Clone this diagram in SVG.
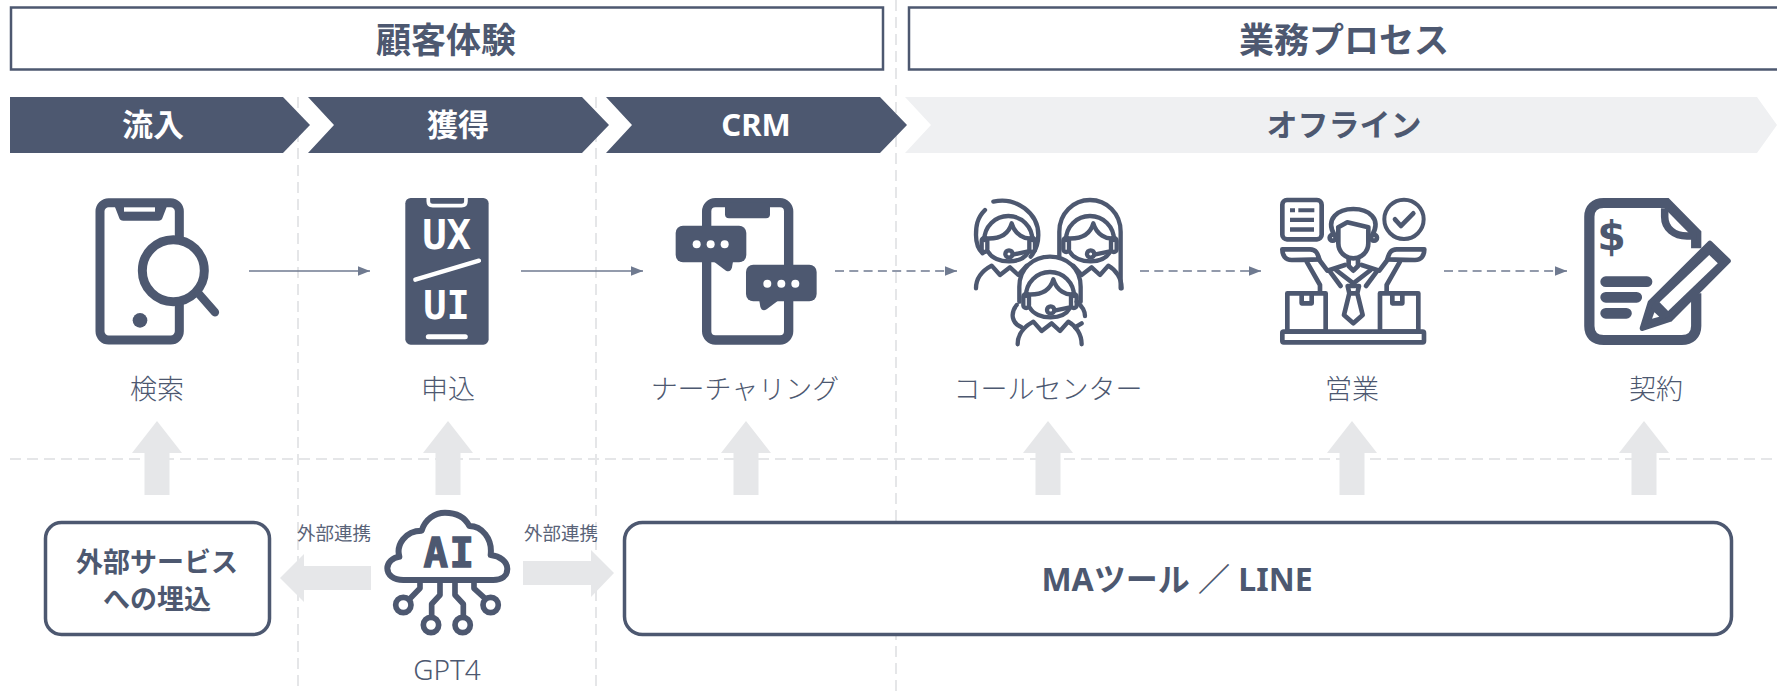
<svg xmlns="http://www.w3.org/2000/svg" width="1777" height="692" viewBox="0 0 1777 692">
<style>
text{font-family:"Noto Sans","Noto Sans CJK JP",sans-serif;text-anchor:middle;dominant-baseline:central;fill:#4d5870}
.h{font-size:35px;font-weight:700}
.c{font-size:31px;font-weight:700}
.w{fill:#fff}
.l{font-size:27px;font-weight:300;fill:#4d5870}
.s{font-size:18.500px;font-weight:400;fill:#596378}
.b{font-size:27px;font-weight:700}
.g{stroke:#e5e6e8;stroke-width:2;stroke-dasharray:11 6;fill:none}
.a{fill:#e6e7e9}
.ln{stroke:#6f7a90;stroke-width:1.6;fill:none;marker-end:url(#ah)}
.d{stroke-dasharray:9 5.3}
.dk{fill:#4d5870}
.o{fill:none;stroke:#4d5870;stroke-linecap:round;stroke-linejoin:round}
.box{fill:#fff;stroke:#4d5870;stroke-width:3.500}
.hb{fill:#fff;stroke:#4d5870;stroke-width:2.500}
text.mono{font-family:"DejaVu Sans Mono",monospace;font-weight:700}
</style>
<defs>
<marker id="ah" markerUnits="userSpaceOnUse" markerWidth="13" markerHeight="11" refX="12.5" refY="5" orient="auto"><path d="M0 0L12.5 5L0 10Z" fill="#6f7a90"/></marker>
<g id="person" class="o" stroke-width="13">
<path d="M-72 20A72 72 0 0 1 72 20"/>
<path d="M-70 15C-30 18 0 5 10 -30C20 5 50 18 70 15"/>
<path d="M-60 56C-50 74 -25 84 2 84C28 84 50 74 60 56"/>
<rect x="-80" y="14" width="17" height="42" rx="8.500"/>
<rect x="63" y="14" width="17" height="42" rx="8.500"/>
<circle cx="2" cy="62" r="11"/>
<path d="M13 64L60 54"/>
<path d="M-97 165C-97 135 -78 112 -50 97L-25 125L5 102L30 125L55 97C78 110 95 135 95 165"/>
</g>
</defs>
<g id="guides">
<path class="g" d="M298 97V692M596 97V692M896 0V692M10 459H1777"/>
</g>
<g id="header-cx"><rect class="hb" x="11" y="7.500" width="872" height="62"/><text class="h" x="446" y="39">顧客体験</text></g>
<g id="header-bp"><rect class="hb" x="909" y="7.500" width="880" height="62"/><text class="h" x="1344" y="39">業務プロセス</text></g>
<g id="stage-inflow"><path class="dk" d="M10 97H283L310 125L283 153H10Z"/><text class="c w" x="153" y="124">流入</text></g>
<g id="stage-acquire"><path class="dk" d="M308 97H582L609 125L582 153H308L334 125Z"/><text class="c w" x="458" y="124">獲得</text></g>
<g id="stage-crm"><path class="dk" d="M606 97H880L907 125L880 153H606L632 125Z"/><text class="c w" x="756" y="124">CRM</text></g>
<g id="stage-offline"><path fill="#eff0f2" d="M905 97H1757L1777 125L1757 153H905L931 125Z"/><text class="c" x="1344" y="124">オフライン</text></g>
<g id="connectors">
<path class="ln" d="M249 271H370"/>
<path class="ln" d="M521 271H643"/>
<path class="ln d" d="M835 271H957"/>
<path class="ln d" d="M1140 271H1261"/>
<path class="ln d" d="M1444 271H1567"/>
<path class="a" d="M144.500 495V453H132L157 421L182 453H169.500V495Z"/>
<path class="a" d="M435.500 495V453H423L448 421L473 453H460.500V495Z"/>
<path class="a" d="M733.500 495V453H721L746 421L771 453H758.500V495Z"/>
<path class="a" d="M1035.500 495V453H1023L1048 421L1073 453H1060.500V495Z"/>
<path class="a" d="M1339.500 495V453H1327L1352 421L1377 453H1364.500V495Z"/>
<path class="a" d="M1631.500 495V453H1619L1644 421L1669 453H1656.500V495Z"/>
<path class="a" d="M371 566H304V554L280 578L304 602V590H371Z"/>
<path class="a" d="M523 561H591V550L614 573L591 597V585H523Z"/>
</g>
<g id="node-search">
<g transform="translate(60 180) scale(.3333)">
<rect x="120" y="68" width="238" height="412" rx="26" fill="none" stroke="#4d5870" stroke-width="27"/>
<path class="dk" d="M160 68L178 115Q180 122 190 122H295Q305 122 307 115L325 68Z"/>
<rect x="192" y="82" width="93" height="13" fill="#fff"/>
<circle cx="240" cy="421" r="22" class="dk"/>
<circle cx="340" cy="272" r="93" fill="#fff" stroke="#4d5870" stroke-width="27"/>
<path class="o" stroke-width="25" d="M415 340L465 397"/>
</g>
<text class="l" x="157" y="388">検索</text>
</g>
<g id="node-apply">
<g transform="translate(60 180) scale(.3333)">
<rect x="1036" y="54" width="250" height="440" rx="16" class="dk"/>
<path fill="none" stroke="#fff" stroke-width="11" d="M1105 54V64Q1105 77 1118 77H1205Q1218 77 1218 64V54"/>
<text class="mono w" x="1160" y="165" font-size="122">UX</text>
<path fill="none" stroke="#fff" stroke-width="13" stroke-linecap="round" d="M1066 299L1257 242"/>
<text class="mono w" x="1160" y="378" font-size="116">UI</text>
<path fill="none" stroke="#fff" stroke-width="15" stroke-linecap="round" d="M1105 470H1216"/>
</g>
<text class="l" x="448" y="388">申込</text>
</g>
<g id="node-nurture">
<g transform="translate(640 180) scale(.3333)">
<rect x="200" y="68" width="246" height="412" rx="26" fill="none" stroke="#4d5870" stroke-width="28"/>
<path class="dk" d="M255 68H390V103Q390 115 378 115H267Q255 115 255 103Z"/>
<rect x="107" y="137" width="212" height="110" rx="22" class="dk"/>
<path class="dk" d="M222 245L258 272Q272 278 276 262L279 245Z"/>
<circle cx="170" cy="193" r="12" fill="#fff"/><circle cx="212" cy="193" r="12" fill="#fff"/><circle cx="254" cy="193" r="12" fill="#fff"/>
<rect x="318" y="254" width="212" height="110" rx="22" class="dk"/>
<path class="dk" d="M358 362L361 380Q366 396 380 388L414 362Z"/>
<circle cx="382" cy="311" r="12" fill="#fff"/><circle cx="424" cy="311" r="12" fill="#fff"/><circle cx="466" cy="311" r="12" fill="#fff"/>
</g>
<text class="l" x="745" y="388">ナーチャリング</text>
</g>
<g id="node-callcenter">
<g transform="translate(960 190) scale(.3333)">
<path class="o" stroke-width="13" d="M100 35C170 20 235 70 235 135C235 165 225 185 212 200M75 60C50 85 48 110 48 135C48 160 55 178 68 190"/>
<use href="#person" x="145" y="130"/>
<path class="o" stroke-width="13" d="M298 200V125C298 70 340 30 390 30C440 30 482 70 482 125V295"/>
<use href="#person" x="390" y="130"/>
<path d="M178 290C178 235 220 200 270 200C320 200 362 235 362 290L375 380L365 465H175L155 380Z" fill="#fff"/>
<path class="o" stroke-width="13" d="M178 335V290C178 235 220 200 270 200C320 200 362 235 362 290V335M170 345C150 370 155 400 185 412M350 335C368 350 375 365 375 378M345 412L365 400"/>
<use href="#person" x="270" y="298"/>
</g>
<text class="l" x="1048" y="388">コールセンター</text>
</g>
<g id="node-sales">
<g transform="translate(1270 190) scale(.3333)">
<rect x="37" y="30" width="118" height="118" rx="14" fill="none" stroke="#4d5870" stroke-width="14"/>
<path class="dk" d="M60 55H75V67H60ZM85 55H133V67H85ZM60 83H132V96H60ZM60 112H132V125H60Z"/>
<circle cx="402" cy="88" r="59" fill="none" stroke="#4d5870" stroke-width="12"/>
<path class="o" stroke-width="14" d="M375 88L393 108L430 70"/>
<g class="o" stroke-width="14">
<path d="M193 135C165 85 205 57 250 57C295 57 335 85 307 135"/>
<path d="M205 112L232 97L295 112M205 112V160C205 188 228 205 250 205C272 205 295 188 295 160V112"/>
<circle cx="188" cy="143" r="9"/><circle cx="312" cy="143" r="9"/>
<path d="M236 205V228L250 242L264 228V205"/>
<path d="M198 240L250 280L302 240M180 245L212 288M320 245L288 288"/>
<path d="M233 288H267L262 310H238ZM238 310L222 375L250 400L278 375L262 310"/>
<path d="M37 178H120C138 178 143 190 148 208C130 208 110 210 65 210C45 210 37 195 37 178Z"/>
<path d="M110 215L150 285V305M148 210L172 242L225 225"/>
<g transform="translate(500 0) scale(-1 1)">
<path d="M37 178H120C138 178 143 190 148 208C130 208 110 210 65 210C45 210 37 195 37 178Z"/>
<path d="M110 215L150 285V305M148 210L172 242L225 225"/>
</g>
</g>
<g fill="none" stroke="#4d5870" stroke-width="14" stroke-linejoin="round">
<rect x="52" y="310" width="115" height="115"/>
<path d="M95 312V340H125V312"/>
<rect x="330" y="310" width="115" height="115"/>
<path d="M367 312V340H397V312"/>
<rect x="37" y="425" width="425" height="32" rx="4"/>
</g>
</g>
<text class="l" x="1352" y="388">営業</text>
</g>
<g id="node-contract">
<g transform="translate(1240 180) scale(.3425 .3333)">
<path fill="none" stroke="#4d5870" stroke-width="30" stroke-linecap="butt" d="M1332 205V160L1245 69H1062C1035 69 1020 85 1020 110V438C1020 465 1035 480 1062 480H1290C1315 480 1332 465 1332 438V340"/>
<path fill="none" stroke="#4d5870" stroke-width="22" d="M1240 85V110C1240 145 1268 168 1305 168H1332"/>
<g class="o" stroke-width="32"><path d="M1068 305H1188M1068 352H1158M1068 400H1128"/></g>
<text x="1085" y="168" font-size="120" style="font-family:'DejaVu Sans',sans-serif;font-weight:700">$</text>
<path class="dk" stroke="#4d5870" stroke-width="16" stroke-linejoin="round" d="M1372 190L1425 243L1255 418L1175 445L1198 368Z"/>
<path fill="#fff" d="M1370 225L1395 250L1250 393L1225 367Z"/>
<path fill="#fff" d="M1210 397L1224 410L1203 416Z"/>
</g>
<text class="l" x="1656" y="388">契約</text>
</g>
<g id="node-embed">
<rect class="box" x="45.500" y="522.500" width="224" height="112" rx="16"/>
<text class="b" x="157" y="561">外部サービス</text>
<text class="b" x="157" y="598">への埋込</text>
</g>
<g id="node-ai">
<g transform="translate(370 500) scale(.3333)">
<path class="o" stroke-width="18" d="M100 240C70 240 52 225 52 205C52 188 68 172 88 170C78 135 105 92 155 92C165 58 195 38 225 38C260 38 285 52 298 78C335 78 368 115 362 165C390 168 412 185 412 207C412 228 395 240 370 240Z"/>
<text class="mono" x="197 275" y="160" font-size="122" stroke="#4d5870" stroke-width="4">AI</text>
<g class="o" stroke-width="17">
<path d="M150 250V265L118 298M210 250V285L185 312V350M255 250V285L280 312V350M312 250V265L345 295"/>
<circle cx="100" cy="315" r="23"/><circle cx="183" cy="375" r="23"/><circle cx="278" cy="375" r="23"/><circle cx="362" cy="315" r="23"/>
</g>
</g>
<text class="l" style="font-size:28px" x="447" y="669">GPT4</text>
</g>
<g id="label-left"><text class="s" x="334" y="532">外部連携</text></g>
<g id="label-right"><text class="s" x="561" y="532">外部連携</text></g>
<g id="node-ma">
<rect class="box" x="624.500" y="522.500" width="1107" height="112" rx="18"/>
<text x="1177" y="578" style="font-size:32px;font-weight:700">MAツール ／ LINE</text>
</g>
</svg>
